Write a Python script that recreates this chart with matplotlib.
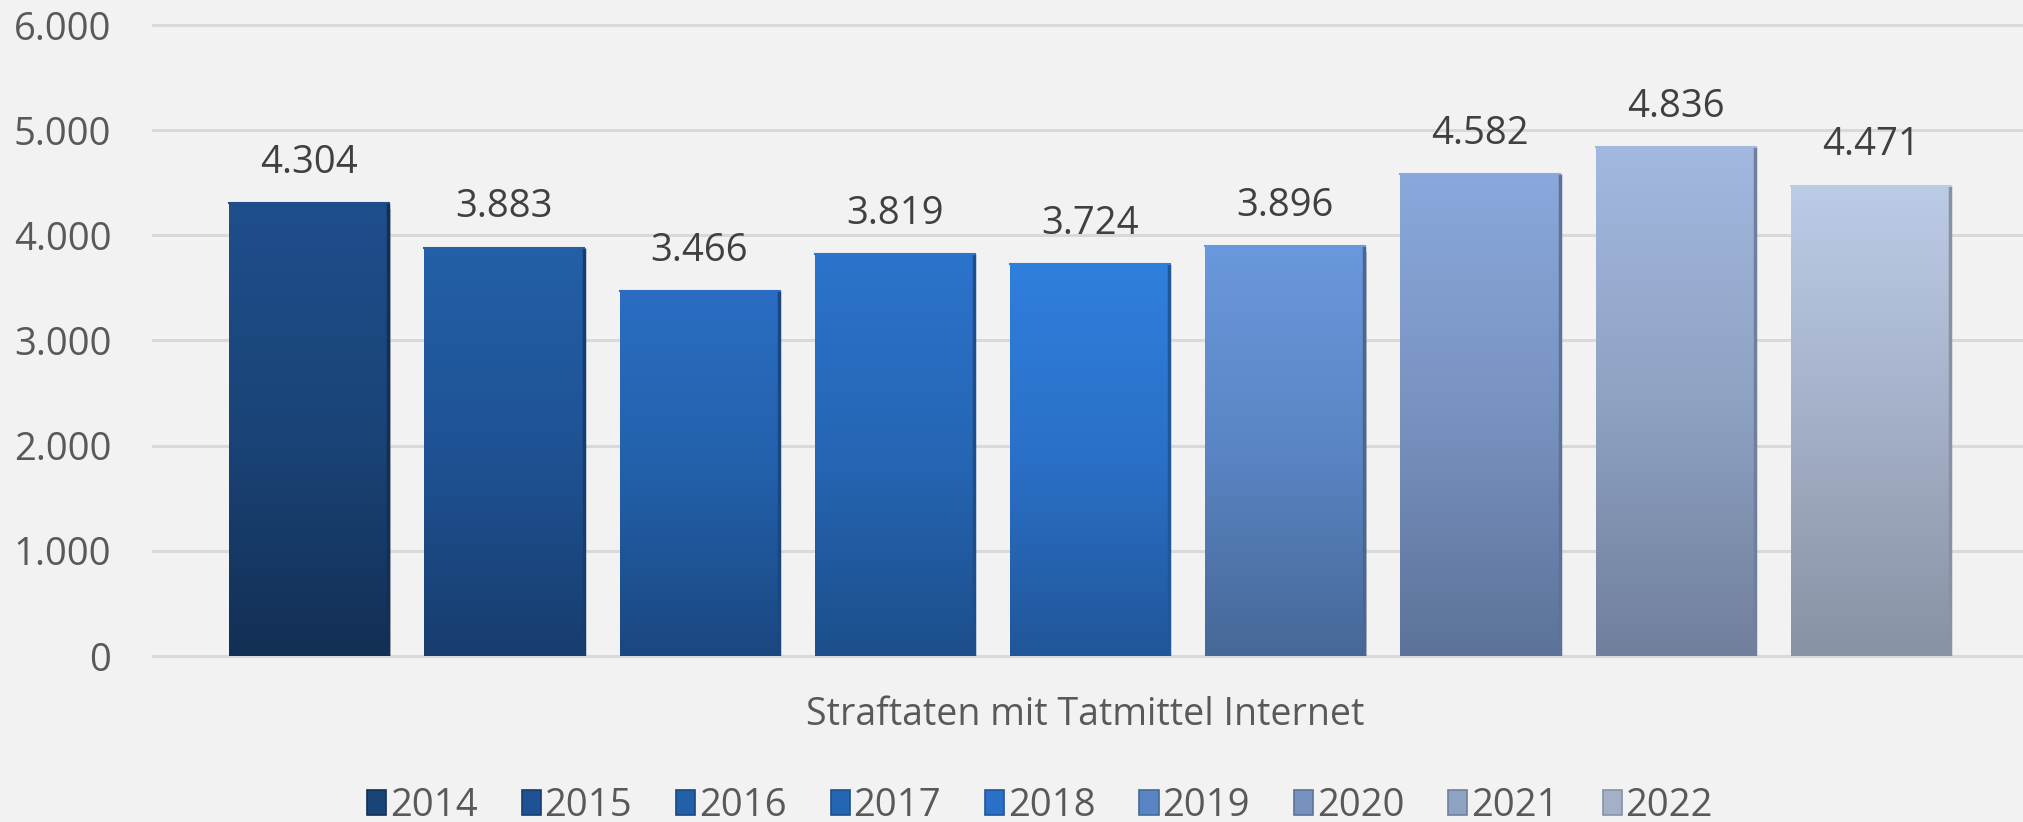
import numpy as np
import matplotlib
matplotlib.use("Agg")
import matplotlib.pyplot as plt
import matplotlib.patheffects as pe
from matplotlib.colors import to_rgb
from matplotlib.patches import Patch

# ---- data ----
years = ["2014", "2015", "2016", "2017", "2018", "2019", "2020", "2021", "2022"]
values = [4304, 3883, 3466, 3819, 3724, 3896, 4582, 4836, 4471]
category_label = "Straftaten mit Tatmittel Internet"
yticks = [0, 1000, 2000, 3000, 4000, 5000, 6000]

# ---- styles (gradient stops: top, middle, bottom) ----
top_c = ['#1f4e8c', '#2360a8', '#2a6dc2', '#2c73cc', '#2f7fdc', '#6a98dc', '#8aa8dc', '#a3b8e0', '#bccbe6']
mid_c = ['#1a4478', '#1f5294', '#2260aa', '#2566b4', '#2a70c8', '#5a85c4', '#7892c0', '#8ea2c2', '#a4b0c8']
bot_c = ['#132f55', '#173d6e', '#1b4780', '#1d4e8b', '#215699', '#466897', '#5c7299', '#707f9c', '#8892a4']

FONT = ['Open Sans', 'DejaVu Sans']
plt.rcParams['font.family'] = FONT
BG = '#f2f2f2'
TXT = '#595959'
FS = 27.5

def fmt(v):
    return f"{v:,}".replace(",", ".")

W, H = 2023, 822
fig = plt.figure(figsize=(W / 100, H / 100), dpi=100, facecolor=BG)
ax = fig.add_axes([153 / W, 1 - 656 / H, 1 - 153 / W, (656 - 25) / H])
ax.set_facecolor(BG)

x = np.arange(len(years))
bw = 0.82
ax.set_xlim(-0.8, 8.78)
ax.set_ylim(0, 6000)

# gridlines
for t in yticks:
    ax.axhline(t, color='#d9d9d9', lw=2.2, zorder=0, clip_on=False)

bars = ax.bar(x, values, width=bw, color=mid_c, zorder=2,
              edgecolor='none')
for i, b in enumerate(bars):
    b.set_path_effects([pe.SimplePatchShadow(offset=(1, -4), shadow_rgbFace='#9a9a9a', alpha=0.55),
                        pe.Normal()])
    # vertical gradient
    n = 256
    f = np.linspace(0, 1, n)[:, None]
    c0, c1, c2 = np.array(to_rgb(top_c[i])), np.array(to_rgb(mid_c[i])), np.array(to_rgb(bot_c[i]))
    grad = np.where(f < 0.5, c0 + (c1 - c0) * (f / 0.5), c1 + (c2 - c1) * ((f - 0.5) / 0.5))
    img = grad[:, None, :].repeat(2, axis=1)
    x0 = b.get_x()
    ax.imshow(img, extent=[x0, x0 + bw, 0, values[i]], aspect='auto',
              interpolation='bilinear', zorder=3, origin='upper')
    # darker right bevel edge
    ax.plot([x0 + bw - 0.004, x0 + bw - 0.004], [0, values[i]], color=bot_c[i], lw=2.5, zorder=4,
            solid_capstyle='butt')
    ax.plot([x0, x0 + bw], [values[i], values[i]], color=top_c[i], lw=1.5, zorder=4)
    ax.annotate(fmt(values[i]), (x[i], values[i]), xytext=(0, 22), textcoords='offset points',
                ha='center', va='baseline', fontsize=FS, color='#404040', zorder=5)

ax.set_yticks(yticks)
ax.set_yticklabels([fmt(t) for t in yticks])
ax.tick_params(axis='y', length=0, pad=30, labelsize=FS, labelcolor=TXT)
ax.set_xticks([])
for s in ax.spines.values():
    s.set_visible(False)

fig.text(1085 / W, 1 - 725 / H, category_label, ha='center', va='baseline',
         fontsize=FS - 0.5, color=TXT)

handles = [Patch(facecolor=mid_c[i], edgecolor=bot_c[i], lw=1.2) for i in range(len(years))]
leg = fig.legend(handles, years, loc='center', bbox_to_anchor=(1040 / W, 1 - 806 / H),
                 ncol=9, frameon=False, fontsize=FS, labelcolor=TXT,
                 handlelength=0.5, handleheight=0.6, handletextpad=0.1,
                 columnspacing=1.15, borderpad=0, borderaxespad=0)

fig.savefig('out.png', dpi=100, facecolor=BG)
